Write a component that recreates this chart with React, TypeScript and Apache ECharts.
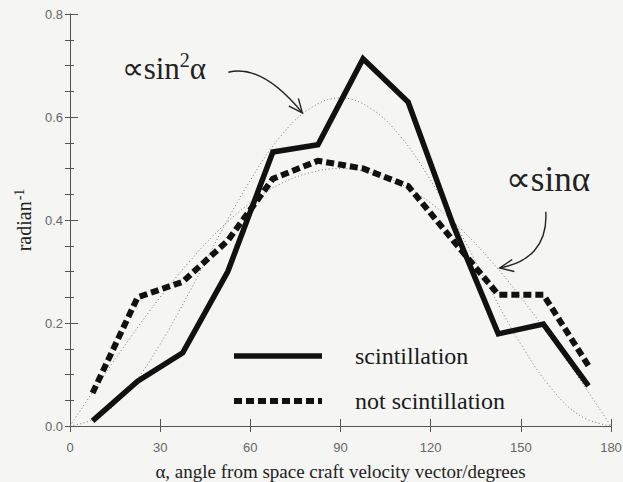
import React, { useEffect, useRef } from "react";
import * as echarts from "echarts";

// Bin centres (degrees) and measured distributions
const angles = [7.5, 22.5, 37.5, 52.5, 67.5, 82.5, 97.5, 112.5, 127.5, 142.5, 157.5, 172.5];
const scintillation = [0.01, 0.087, 0.142, 0.3, 0.532, 0.546, 0.713, 0.629, 0.39, 0.179, 0.198, 0.078];
const notScintillation = [0.064, 0.25, 0.28, 0.36, 0.48, 0.515, 0.5, 0.466, 0.36, 0.255, 0.255, 0.117];

// Reference curves
const curveAngles = [0, 10, 20, 30, 40, 50, 60, 70, 80, 90, 100, 110, 120, 130, 140, 150, 160, 170, 180];
const sin2Curve = [0, 0.019, 0.074, 0.159, 0.263, 0.374, 0.477, 0.562, 0.617, 0.637, 0.617, 0.562, 0.477, 0.374, 0.263, 0.159, 0.074, 0.019, 0];
const sinCurve = [0, 0.087, 0.171, 0.25, 0.321, 0.383, 0.433, 0.47, 0.492, 0.5, 0.492, 0.47, 0.433, 0.383, 0.321, 0.25, 0.171, 0.087, 0];

const xTicks = [0, 30, 60, 90, 120, 150, 180];
const yTicks = [0, 0.2, 0.4, 0.6, 0.8];

const seriesNames = ["scintillation", "not scintillation"];

const SERIF = "'Liberation Serif', 'Times New Roman', serif";
const SANS = "'Liberation Sans', Arial, sans-serif";
const AXIS = "#555";

export default function App() {
  const ref = useRef<HTMLDivElement>(null);

  useEffect(() => {
    if (!ref.current) return;
    const chart = echarts.init(ref.current, null, { renderer: "svg" });

    const zip = (xs: number[], ys: number[]) => xs.map((x, i) => [x, ys[i]]);

    const option: any = {
      animation: false,
      backgroundColor: "#f5f5f4",
      grid: { left: 70, right: 12, top: 14, bottom: 56, containLabel: false, outerBoundsMode: "none" },
      xAxis: [
        {
          type: "value",
          position: "bottom",
          min: xTicks[0],
          max: xTicks[xTicks.length - 1],
          interval: 30,
          axisLine: { show: true, lineStyle: { color: AXIS, width: 1 } },
          axisTick: { show: true, inside: true, length: 7, lineStyle: { color: AXIS } },
          axisLabel: { color: "#666", fontSize: 13, fontFamily: SANS, margin: 15 },
          splitLine: { show: false },
          name: "α, angle from space craft velocity vector/degrees",
          nameLocation: "middle",
          nameGap: 36,
          nameTextStyle: { fontFamily: SERIF, fontSize: 19, color: "#222" },
        },
        {
          type: "value",
          position: "top",
          min: xTicks[0],
          max: xTicks[xTicks.length - 1],
          interval: 30,
          axisLine: { show: true, lineStyle: { color: AXIS, width: 1 } },
          axisTick: { show: true, inside: true, length: 6, lineStyle: { color: AXIS } },
          axisLabel: { show: false },
          splitLine: { show: false },
        },
      ],
      yAxis: [
        {
          type: "value",
          position: "left",
          min: yTicks[0],
          max: yTicks[yTicks.length - 1],
          interval: 0.2,
          axisLine: { show: true, lineStyle: { color: AXIS, width: 1 } },
          axisTick: { show: true, inside: true, length: 8, lineStyle: { color: AXIS } },
          minorTick: { show: true, splitNumber: 4, length: 4, lineStyle: { color: AXIS } },
          axisLabel: {
            color: "#666",
            fontSize: 13,
            fontFamily: SANS,
            margin: 7,
            formatter: (v: number) => v.toFixed(1),
          },
          splitLine: { show: false },
          name: "{r|radian}{s|-1}",
          nameLocation: "middle",
          nameGap: 28,
          nameRotate: 90,
          nameTextStyle: {
            fontFamily: SERIF,
            fontSize: 20,
            color: "#222",
            rich: {
              r: { fontFamily: SERIF, fontSize: 20, color: "#222" },
              s: { fontFamily: SERIF, fontSize: 14, color: "#222", verticalAlign: "top", padding: [0, 0, 9, 1] },
            },
          },
        },
        {
          type: "value",
          position: "right",
          min: yTicks[0],
          max: yTicks[yTicks.length - 1],
          interval: 0.05,
          axisLine: { show: true, lineStyle: { color: AXIS, width: 1 } },
          axisTick: { show: true, inside: true, length: 5, lineStyle: { color: AXIS } },
          axisLabel: { show: false },
          splitLine: { show: false },
        },
      ],
      legend: {
        data: seriesNames,
        orient: "vertical",
        left: 231,
        top: 344,
        padding: 0,
        itemGap: 21,
        itemWidth: 88,
        itemHeight: 28,
        selectedMode: false,
        itemStyle: { opacity: 0, borderWidth: 0 },
        lineStyle: { width: "inherit" },
        textStyle: { fontFamily: SERIF, fontSize: 24, color: "#1a1a1a", padding: [0, 0, 6, 28] },
      },
      series: [
        {
          name: "sin2",
          type: "line",
          data: zip(curveAngles, sin2Curve),
          smooth: 0.4,
          symbol: "none",
          lineStyle: { color: "#777", width: 1, type: [1, 2.5] },
          silent: true,
          z: 1,
        },
        {
          name: "sin",
          type: "line",
          data: zip(curveAngles, sinCurve),
          smooth: 0.4,
          symbol: "none",
          lineStyle: { color: "#777", width: 1, type: [1, 2.5] },
          silent: true,
          z: 1,
        },
        {
          name: seriesNames[1],
          type: "line",
          data: zip(angles, notScintillation),
          symbol: "none",
          lineStyle: { color: "#111", width: 6, type: [8, 4], cap: "butt", join: "miter" },
          z: 3,
        },
        {
          name: seriesNames[0],
          type: "line",
          data: zip(angles, scintillation),
          symbol: "none",
          lineStyle: { color: "#111", width: 5.5, join: "miter" },
          z: 4,
        },
      ],
    };

    chart.setOption(option);

    const px = (d: number[]) => chart.convertToPixel({ gridIndex: 0 }, d) as number[];

    const wings = (tip: number[], from: number[], len = 15, ang = 0.42) => {
      const dx = tip[0] - from[0];
      const dy = tip[1] - from[1];
      const a = Math.atan2(dy, dx);
      const w1 = [tip[0] - len * Math.cos(a - ang), tip[1] - len * Math.sin(a - ang)];
      const w2 = [tip[0] - len * Math.cos(a + ang), tip[1] - len * Math.sin(a + ang)];
      return [w1, tip, w2];
    };

    // annotation anchors (data coordinates)
    const t1 = px([17.2, 0.695]);
    const a1s = px([52.7, 0.687]);
    const a1c = px([64, 0.703]);
    const a1e = px([77.3, 0.608]);

    const t2 = px([145, 0.478]);
    const a2s = px([158.3, 0.416]);
    const a2c1 = px([159, 0.351]);
    const a2c2 = px([152.7, 0.317]);
    const a2e = px([143, 0.307]);

    const rich = {
      a: { fontFamily: SERIF, fontSize: 31, fill: "#222" },
      b: { fontFamily: SERIF, fontSize: 35, fill: "#222" },
      s: { fontFamily: SERIF, fontSize: 20, fill: "#222", verticalAlign: "top", padding: [0, 0, 16, 0] },
    };

    chart.setOption({
      graphic: [
        {
          type: "text",
          x: t1[0],
          y: t1[1],
          style: { text: "{a|∝sin}{s|2}{a|α}", rich, verticalAlign: "middle", align: "left" },
        },
        {
          type: "bezierCurve",
          shape: { x1: a1s[0], y1: a1s[1], x2: a1e[0], y2: a1e[1], cpx1: a1c[0], cpy1: a1c[1] },
          style: { stroke: "#222", lineWidth: 1.4, fill: "none" },
        },
        {
          type: "polyline",
          shape: { points: wings(a1e, a1c) },
          style: { stroke: "#222", lineWidth: 1.4, fill: "none" },
        },
        {
          type: "text",
          x: t2[0],
          y: t2[1],
          style: { text: "{b|∝sinα}", rich, verticalAlign: "middle", align: "left" },
        },
        {
          type: "bezierCurve",
          shape: {
            x1: a2s[0], y1: a2s[1], x2: a2e[0], y2: a2e[1],
            cpx1: a2c1[0], cpy1: a2c1[1], cpx2: a2c2[0], cpy2: a2c2[1],
          },
          style: { stroke: "#222", lineWidth: 1.4, fill: "none" },
        },
        {
          type: "polyline",
          shape: { points: wings(a2e, a2c2) },
          style: { stroke: "#222", lineWidth: 1.4, fill: "none" },
        },
      ],
    });

    return () => chart.dispose();
  }, []);

  return (
    <div
      ref={ref}
      style={{ position: "fixed", left: 0, top: 0, width: 623, height: 482 }}
    />
  );
}
